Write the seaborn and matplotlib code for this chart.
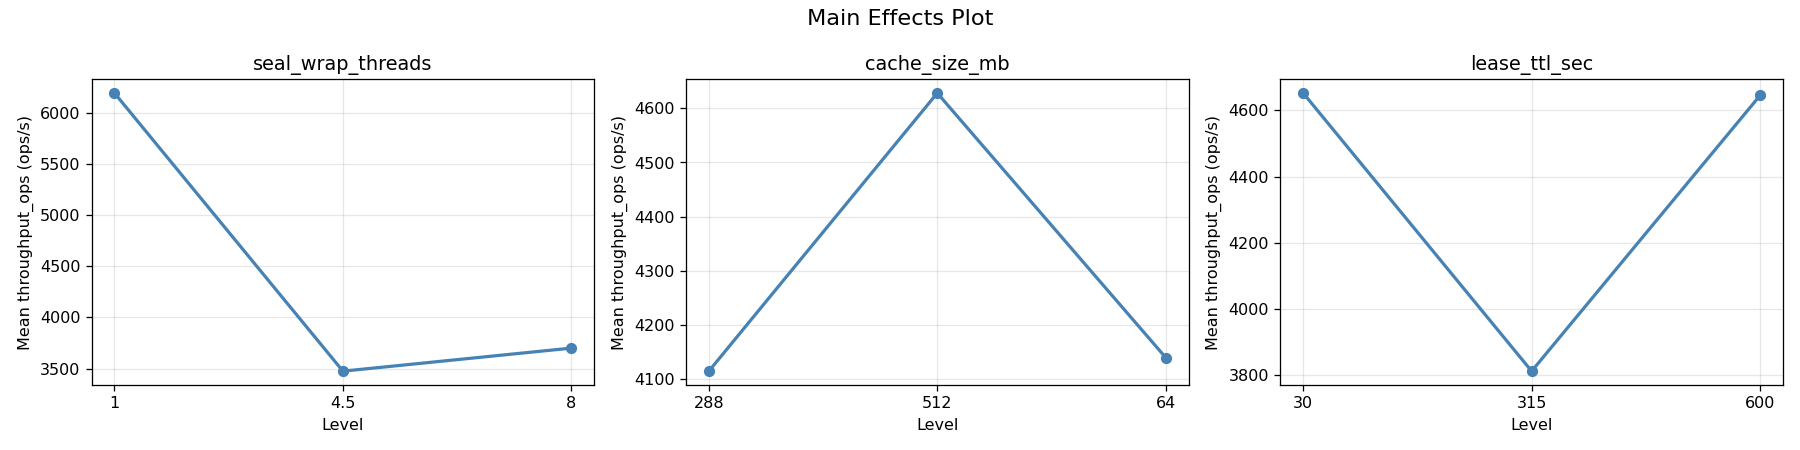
import matplotlib
matplotlib.use("Agg")
import matplotlib.pyplot as plt
import seaborn as sns
import pandas as pd

factors = ["seal_wrap_threads", "cache_size_mb", "lease_ttl_sec"]
levels_1 = ["1", "4.5", "8"]
means_1 = [6190, 3475, 3700]
levels_2 = ["288", "512", "64"]
means_2 = [4115, 4628, 4140]
levels_3 = ["30", "315", "600"]
means_3 = [4652, 3812, 4645]

fig, axes = plt.subplots(1, 3, figsize=(15.6, 3.9), dpi=115.4)
for ax, name, lv, mv in zip(axes, factors, [levels_1, levels_2, levels_3], [means_1, means_2, means_3]):
    df = pd.DataFrame({"Level": lv, "Mean": mv})
    sns.lineplot(data=df, x="Level", y="Mean", sort=False, marker="o", markersize=7,
                 markeredgewidth=0, color="steelblue", linewidth=2, ax=ax)
    ax.set_title(name, fontsize=12)
    ax.set_xlabel("Level", fontsize=10)
    ax.set_ylabel("Mean throughput_ops (ops/s)", fontsize=10)
    ax.tick_params(labelsize=10)
    ax.grid(True, alpha=0.3)
fig.suptitle("Main Effects Plot", fontsize=14)
fig.tight_layout()
fig.savefig("out.png")
